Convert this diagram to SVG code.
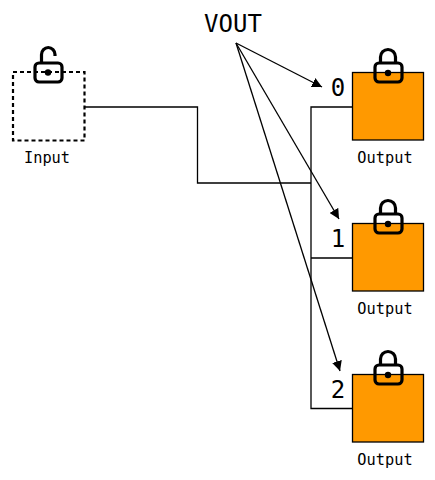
<svg xmlns="http://www.w3.org/2000/svg" width="435" height="480" viewBox="0 0 435 480">
<style>
.w{fill:none;stroke:#000;stroke-width:1.3}
.box{fill:#ff9900;stroke:#000;stroke-width:1.3}
.lk{fill:none;stroke:#000;stroke-width:3.200;stroke-linejoin:round}
text{font-family:"DejaVu Sans Mono",monospace;fill:#000;font-weight:normal}
.s{font-size:15.300px;text-anchor:middle}
.b{font-size:24px;text-anchor:middle}
</style>
<defs>
<marker id="a" viewBox="0 0 10 10" refX="10" refY="5" markerWidth="10" markerHeight="10" markerUnits="userSpaceOnUse" orient="auto"><path d="M0 0L10 5L0 10z" fill="#000"/></marker>
<g id="closed"><rect x="-13" y="-9.500" width="27" height="19" rx="4" class="lk"/><path d="M-7.500-9.500V-15.500A7.500 7.500 0 0 1 7.500-15.500V-9.500" class="lk"/><circle cy="0.500" r="3.200" fill="#000"/></g>
</defs>
<rect id="background" width="435" height="480" fill="#fff"/>
<g id="connectors">
<path class="w" d="M85 107H197.500V183H311M352 107H311V408.500H352M311 258H352"/>
<path class="w" marker-end="url(#a)" d="M236 43L322 87"/>
<path class="w" marker-end="url(#a)" d="M236 43L339 219"/>
<path class="w" marker-end="url(#a)" d="M236 43L340 371"/>
</g>
<text id="vout" class="b" x="233" y="32">VOUT</text>
<g id="input">
<rect x="13" y="72" width="71.500" height="68.500" fill="none" stroke="#000" stroke-width="2.200" stroke-dasharray="4 3"/>
<rect x="35" y="63" width="27" height="19" rx="4" class="lk"/><path d="M41.500 63V54.500A6.750 7 0 0 1 55 54.500V56" class="lk"/><circle cx="48" cy="72.500" r="3.200" fill="#000"/>
<text class="s" x="47" y="163">Input</text>
</g>
<g id="output0">
<rect x="352.500" y="72.500" width="71" height="67.500" class="box"/>
<use href="#closed" x="388" y="72.500"/>
<text class="s" x="385" y="163">Output</text>
<text class="b" x="338" y="96">0</text>
</g>
<g id="output1">
<rect x="352.500" y="223.500" width="71" height="67.500" class="box"/>
<use href="#closed" x="388" y="223.500"/>
<text class="s" x="385" y="314">Output</text>
<text class="b" x="338" y="247">1</text>
</g>
<g id="output2">
<rect x="352.500" y="374.500" width="71" height="67.500" class="box"/>
<use href="#closed" x="388" y="374.500"/>
<text class="s" x="385" y="465">Output</text>
<text class="b" x="338" y="398">2</text>
</g>
</svg>
